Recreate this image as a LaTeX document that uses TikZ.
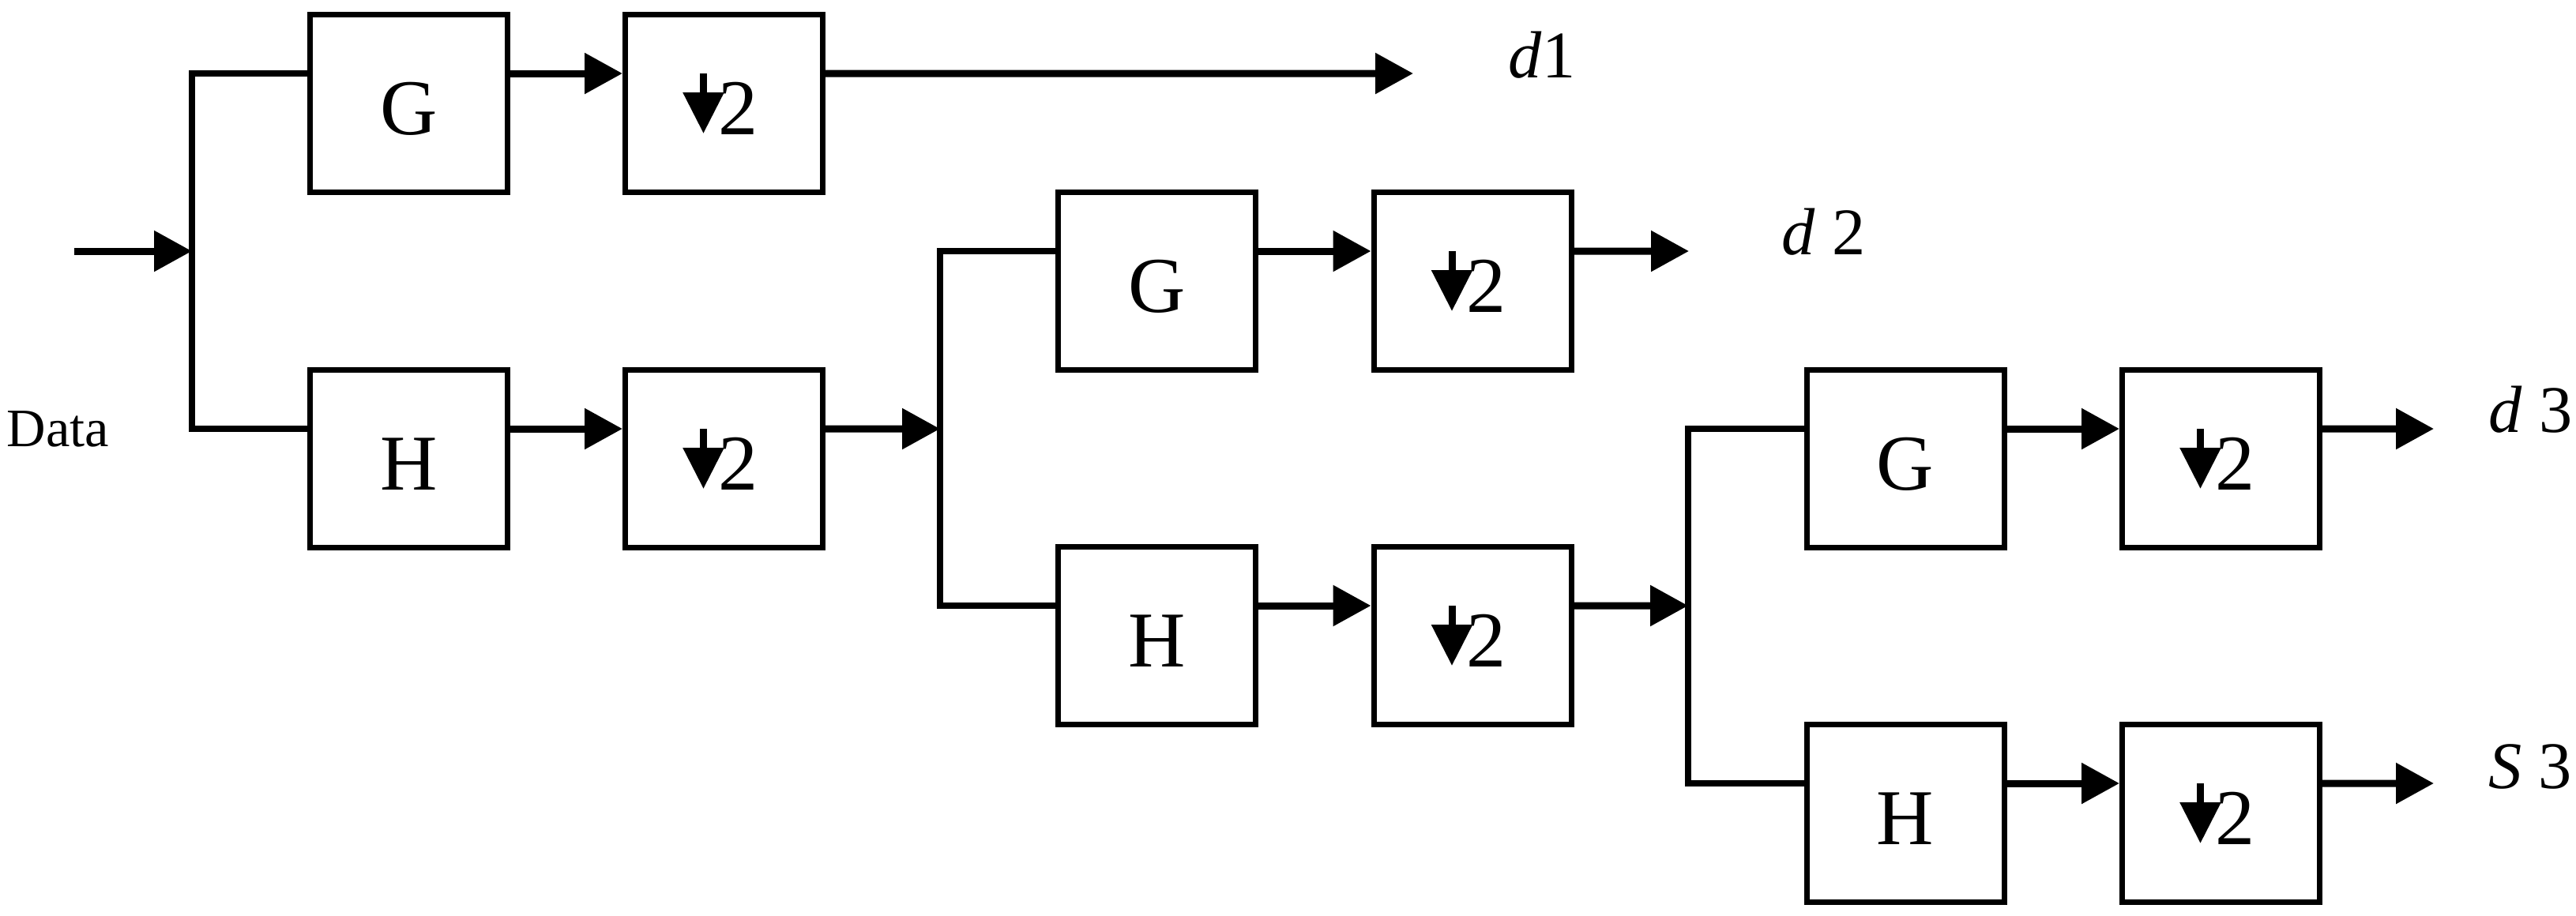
\documentclass[tikz,border=0pt]{standalone}
\usepackage{fontspec}
\setmainfont{Liberation Serif}
\usetikzlibrary{arrows.meta}

\begin{document}
\begin{tikzpicture}[
        wire/.style={line width=0.8mm},
        arr/.style={line width=0.9mm, -{Triangle[length=4.8mm, width=5mm]}},
        filter/.style={draw, line width=0.7mm, minimum width=2.5cm, minimum height=2.25cm, inner sep=0pt, text height=7.9mm, text depth=0pt, font=\fontsize{28.5}{34}\selectfont},
        downbox/.style={filter, path picture={\draw[line width=0.9mm, -{Triangle[length=5.2mm, width=5mm]}] ([xshift=-2.6mm, yshift=3.8mm]path picture bounding box.center) -- ([xshift=-2.6mm, yshift=-3.8mm]path picture bounding box.center);}},
        outname/.style={anchor=base west, inner sep=0pt, font=\fontsize{24}{29}\selectfont}
    ]
        \path[use as bounding box] (0, 0) rectangle (32.61, -11.59);
        % Filters
        \node (g1) at (5.175, -1.31) [filter] {G};
        \node (h1) at (5.175, -5.81) [filter] {H};
        \node (g2) at (14.645, -3.56) [filter] {G};
        \node (h2) at (14.645, -8.05) [filter] {H};
        \node (g3) at (24.12, -5.81) [filter] {G};
        \node (h3) at (24.12, -10.30) [filter] {H};
        % Downsamplers
        \node (dg1) at (9.165, -1.31) [downbox] {\kern3.6mm 2};
        \node (dh1) at (9.165, -5.81) [downbox] {\kern3.6mm 2};
        \node (dg2) at (18.64, -3.56) [downbox] {\kern3.6mm 2};
        \node (dh2) at (18.64, -8.05) [downbox] {\kern3.6mm 2};
        \node (dg3) at (28.115, -5.81) [downbox] {\kern3.6mm 2};
        \node (dh3) at (28.115, -10.30) [downbox] {\kern3.6mm 2};
        % Junctions and free ends
        \coordinate (in) at (0.94, -3.18);
        \coordinate (j1) at (2.43, -3.18);
        \coordinate (j2) at (11.90, -5.43);
        \coordinate (j3) at (21.37, -7.67);
        \coordinate (o1) at (17.89, -0.93);
        \coordinate (o2) at (21.38, -3.18);
        \coordinate (o3) at (30.81, -5.43);
        \coordinate (o4) at (30.81, -9.92);
        % Labels
        \node (data) at (0.08, -5.65) [anchor=base west, inner sep=0pt, font=\fontsize{19.5}{24}\selectfont] {Data};
        \node (l1) at (19.09, -0.98) [outname] {\textit{d}1};
        \node (l2) at (22.55, -3.225) [outname] {\textit{d} 2};
        \node (l3) at (31.50, -5.475) [outname] {\textit{d} 3};
        \node (l4) at (31.50, -9.98) [outname] {\textit{S} 3};
        % Stage 1
        \draw[arr] (in) -- (j1);
        \draw[wire] ([yshift=3.8mm]g1.west) -| (j1) |- ([yshift=3.8mm]h1.west);
        \draw[arr] ([yshift=3.8mm]g1.east) -- ([yshift=3.8mm]dg1.west);
        \draw[arr] ([yshift=3.8mm]h1.east) -- ([yshift=3.8mm]dh1.west);
        \draw[arr] ([yshift=3.8mm]dg1.east) -- (o1);
        \draw[arr] ([yshift=3.8mm]dh1.east) -- (j2);
        % Stage 2
        \draw[wire] ([yshift=3.8mm]g2.west) -| (j2) |- ([yshift=3.8mm]h2.west);
        \draw[arr] ([yshift=3.8mm]g2.east) -- ([yshift=3.8mm]dg2.west);
        \draw[arr] ([yshift=3.8mm]h2.east) -- ([yshift=3.8mm]dh2.west);
        \draw[arr] ([yshift=3.8mm]dg2.east) -- (o2);
        \draw[arr] ([yshift=3.8mm]dh2.east) -- (j3);
        % Stage 3
        \draw[wire] ([yshift=3.8mm]g3.west) -| (j3) |- ([yshift=3.8mm]h3.west);
        \draw[arr] ([yshift=3.8mm]g3.east) -- ([yshift=3.8mm]dg3.west);
        \draw[arr] ([yshift=3.8mm]h3.east) -- ([yshift=3.8mm]dh3.west);
        \draw[arr] ([yshift=3.8mm]dg3.east) -- (o3);
        \draw[arr] ([yshift=3.8mm]dh3.east) -- (o4);
    \end{tikzpicture}
\end{document}
